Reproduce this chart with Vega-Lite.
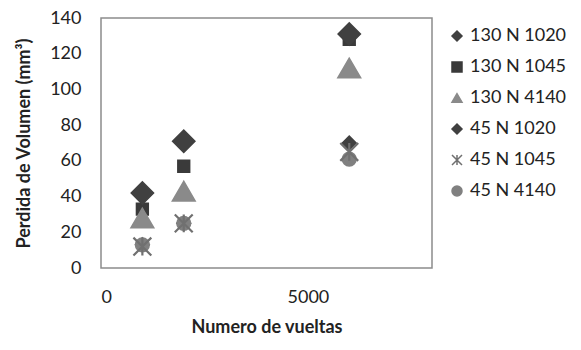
{
  "$schema": "https://vega.github.io/schema/vega-lite/v6.json",
  "width": 331,
  "height": 250,
  "autosize": "none",
  "padding": {"left": 101, "top": 18, "right": 149, "bottom": 82},
  "background": "white",
  "config": {
    "font": "Lato",
    "view": {"stroke": "#8c8c8c", "strokeWidth": 1.5},
    "axis": {"grid": false, "ticks": false, "domain": false, "labelFontSize": 18, "labelColor": "#222", "titleFontSize": 18, "titleFontWeight": "bold", "titleColor": "#222"},
    "legend": {"symbolSize": 100, "symbolStrokeWidth": 1.5}
  },
  "data": {
    "values": [
      {"x": 1000, "y": 13, "series": "45 N 1020"},
      {"x": 2000, "y": 25, "series": "45 N 1020"},
      {"x": 6000, "y": 70, "series": "45 N 1020"},
      {"x": 1000, "y": 13, "series": "45 N 4140"},
      {"x": 2000, "y": 25, "series": "45 N 4140"},
      {"x": 6000, "y": 61, "series": "45 N 4140"},
      {"x": 1000, "y": 12, "series": "45 N 1045"},
      {"x": 2000, "y": 25, "series": "45 N 1045"},
      {"x": 6000, "y": 65, "series": "45 N 1045"},
      {"x": 1000, "y": 33, "series": "130 N 1045"},
      {"x": 2000, "y": 57, "series": "130 N 1045"},
      {"x": 6000, "y": 128, "series": "130 N 1045"},
      {"x": 1000, "y": 28, "series": "130 N 4140"},
      {"x": 2000, "y": 43, "series": "130 N 4140"},
      {"x": 6000, "y": 112, "series": "130 N 4140"},
      {"x": 1000, "y": 42, "series": "130 N 1020"},
      {"x": 2000, "y": 71, "series": "130 N 1020"},
      {"x": 6000, "y": 131, "series": "130 N 1020"}
    ]
  },
  "encoding": {
    "x": {"field": "x", "type": "quantitative", "title": "Numero de vueltas", "scale": {"domain": [0, 8000], "nice": false}, "axis": {"values": [0, 5000], "format": "d", "labelPadding": 20, "titlePadding": 12}},
    "y": {"field": "y", "type": "quantitative", "title": "Perdida de Volumen (mm³)", "scale": {"domain": [0, 140], "nice": false}, "axis": {"values": [0, 20, 40, 60, 80, 100, 120, 140], "labelPadding": 20, "titlePadding": 16}},
    "fill": {"field": "series", "type": "nominal", "title": null,
      "scale": {"domain": ["130 N 1020", "130 N 1045", "130 N 4140", "45 N 1020", "45 N 1045", "45 N 4140"],
                "range": ["#404040", "#3a3a3a", "#8a8a8a", "#404040", "#707070", "#808080"]},
      "legend": {"orient": "none", "legendX": 347, "legendY": 9, "labelFontSize": 18, "labelColor": "#222", "rowPadding": 13, "labelOffset": 4}},
    "stroke": {"field": "series", "type": "nominal", "title": null,
      "scale": {"domain": ["130 N 1020", "130 N 1045", "130 N 4140", "45 N 1020", "45 N 1045", "45 N 4140"],
                "range": ["#404040", "#3a3a3a", "#8a8a8a", "#404040", "#707070", "#808080"]}},
    "shape": {"field": "series", "type": "nominal", "title": null,
      "scale": {"domain": ["130 N 1020", "130 N 1045", "130 N 4140", "45 N 1020", "45 N 1045", "45 N 4140"],
                "range": ["diamond", "square", "triangle-up", "diamond", "M-1,-1L1,1M-1,1L1,-1M0,-1L0,1", "circle"]}}
  },
  "layer": [
    {"transform": [{"filter": "datum.series === '45 N 1020'"}], "mark": {"type": "point", "filled": true, "opacity": 1, "strokeWidth": 1.5, "size": 190}},
    {"transform": [{"filter": "datum.series === '45 N 4140'"}], "mark": {"type": "point", "filled": true, "opacity": 1, "strokeWidth": 1.5, "size": 190}},
    {"transform": [{"filter": "datum.series === '45 N 1045'"}], "mark": {"type": "point", "filled": true, "opacity": 1, "strokeWidth": 2.2, "size": 320}},
    {"transform": [{"filter": "datum.series === '130 N 1045'"}], "mark": {"type": "point", "filled": true, "opacity": 1, "strokeWidth": 1.5, "size": 140}},
    {"transform": [{"filter": "datum.series === '130 N 4140'"}], "mark": {"type": "point", "filled": true, "opacity": 1, "strokeWidth": 1.5, "size": 520}},
    {"transform": [{"filter": "datum.series === '130 N 1020'"}], "mark": {"type": "point", "filled": true, "opacity": 1, "strokeWidth": 1.5, "size": 500}}
  ]
}
